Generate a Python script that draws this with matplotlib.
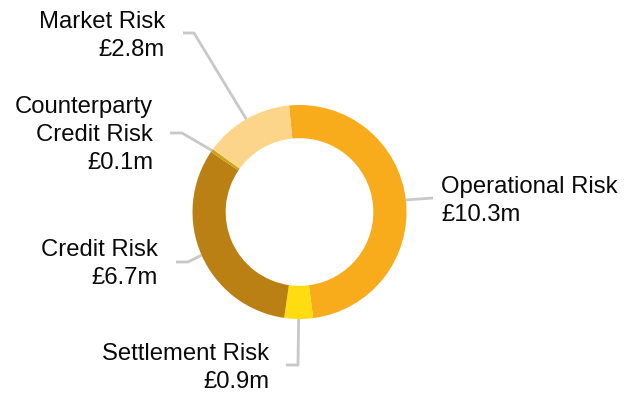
import numpy as np
import matplotlib
matplotlib.use("Agg")
import matplotlib.pyplot as plt

## Capital requirement by risk type (GBP millions)
risk_names = ["Operational Risk", "Settlement Risk", "Credit Risk",
              "Counterparty\nCredit Risk", "Market Risk"]
risk_values = [10.3, 0.9, 6.7, 0.1, 2.8]
risk_colours = ["#F9AC1B", "#FFDC10", "#BA8013", "#C9A516", "#FDD58A"]

W, H = 633, 395
fig = plt.figure(figsize=(W / 100.0, H / 100.0), dpi=100)
ax = fig.add_axes([0, 0, 1, 1])

cx, cy = 299.5, H - 212
r_out = 107
ring = 0.31
start = 95.6

wedges, _ = ax.pie(risk_values, colors=risk_colours, startangle=start,
                   counterclock=False, radius=r_out, center=(cx, cy),
                   wedgeprops=dict(width=r_out * ring, linewidth=0),
                   frame=True)
ax.set_xlim(0, W)
ax.set_ylim(0, H)
ax.set_aspect("equal")
ax.axis("off")

## label layout: elbow point, end of leader, text anchor, alignment
layout = [
    ((433, 198), None, (441, 201), "left"),
    ((298, 365), (286, 365), (269, 368), "right"),
    ((188, 262), (176, 262), (158, 264), "right"),
    ((182, 133), (170, 133), (153, 135), "right"),
    ((194, 33), (183, 33), (165, 36), "right"),
]

line_col = "#C8C8C8"
for w, name, val, (elbow, end, txt, ha) in zip(wedges, risk_names, risk_values, layout):
    mid = np.deg2rad((w.theta1 + w.theta2) / 2.0)
    px = cx + r_out * np.cos(mid)
    py = cy + r_out * np.sin(mid)
    xs = [px, elbow[0]]
    ys = [py, H - elbow[1]]
    if end is not None:
        xs.append(end[0])
        ys.append(H - end[1])
    ax.plot(xs, ys, color=line_col, linewidth=2, solid_capstyle="butt", zorder=0)
    ax.text(txt[0], H - txt[1], name + "\n£%.1fm" % val, ha=ha, va="center",
            fontsize=17.2, family="Liberation Sans", color="#0a0a0a",
            linespacing=1.36, multialignment=ha)

fig.savefig("out.png", dpi=100)
